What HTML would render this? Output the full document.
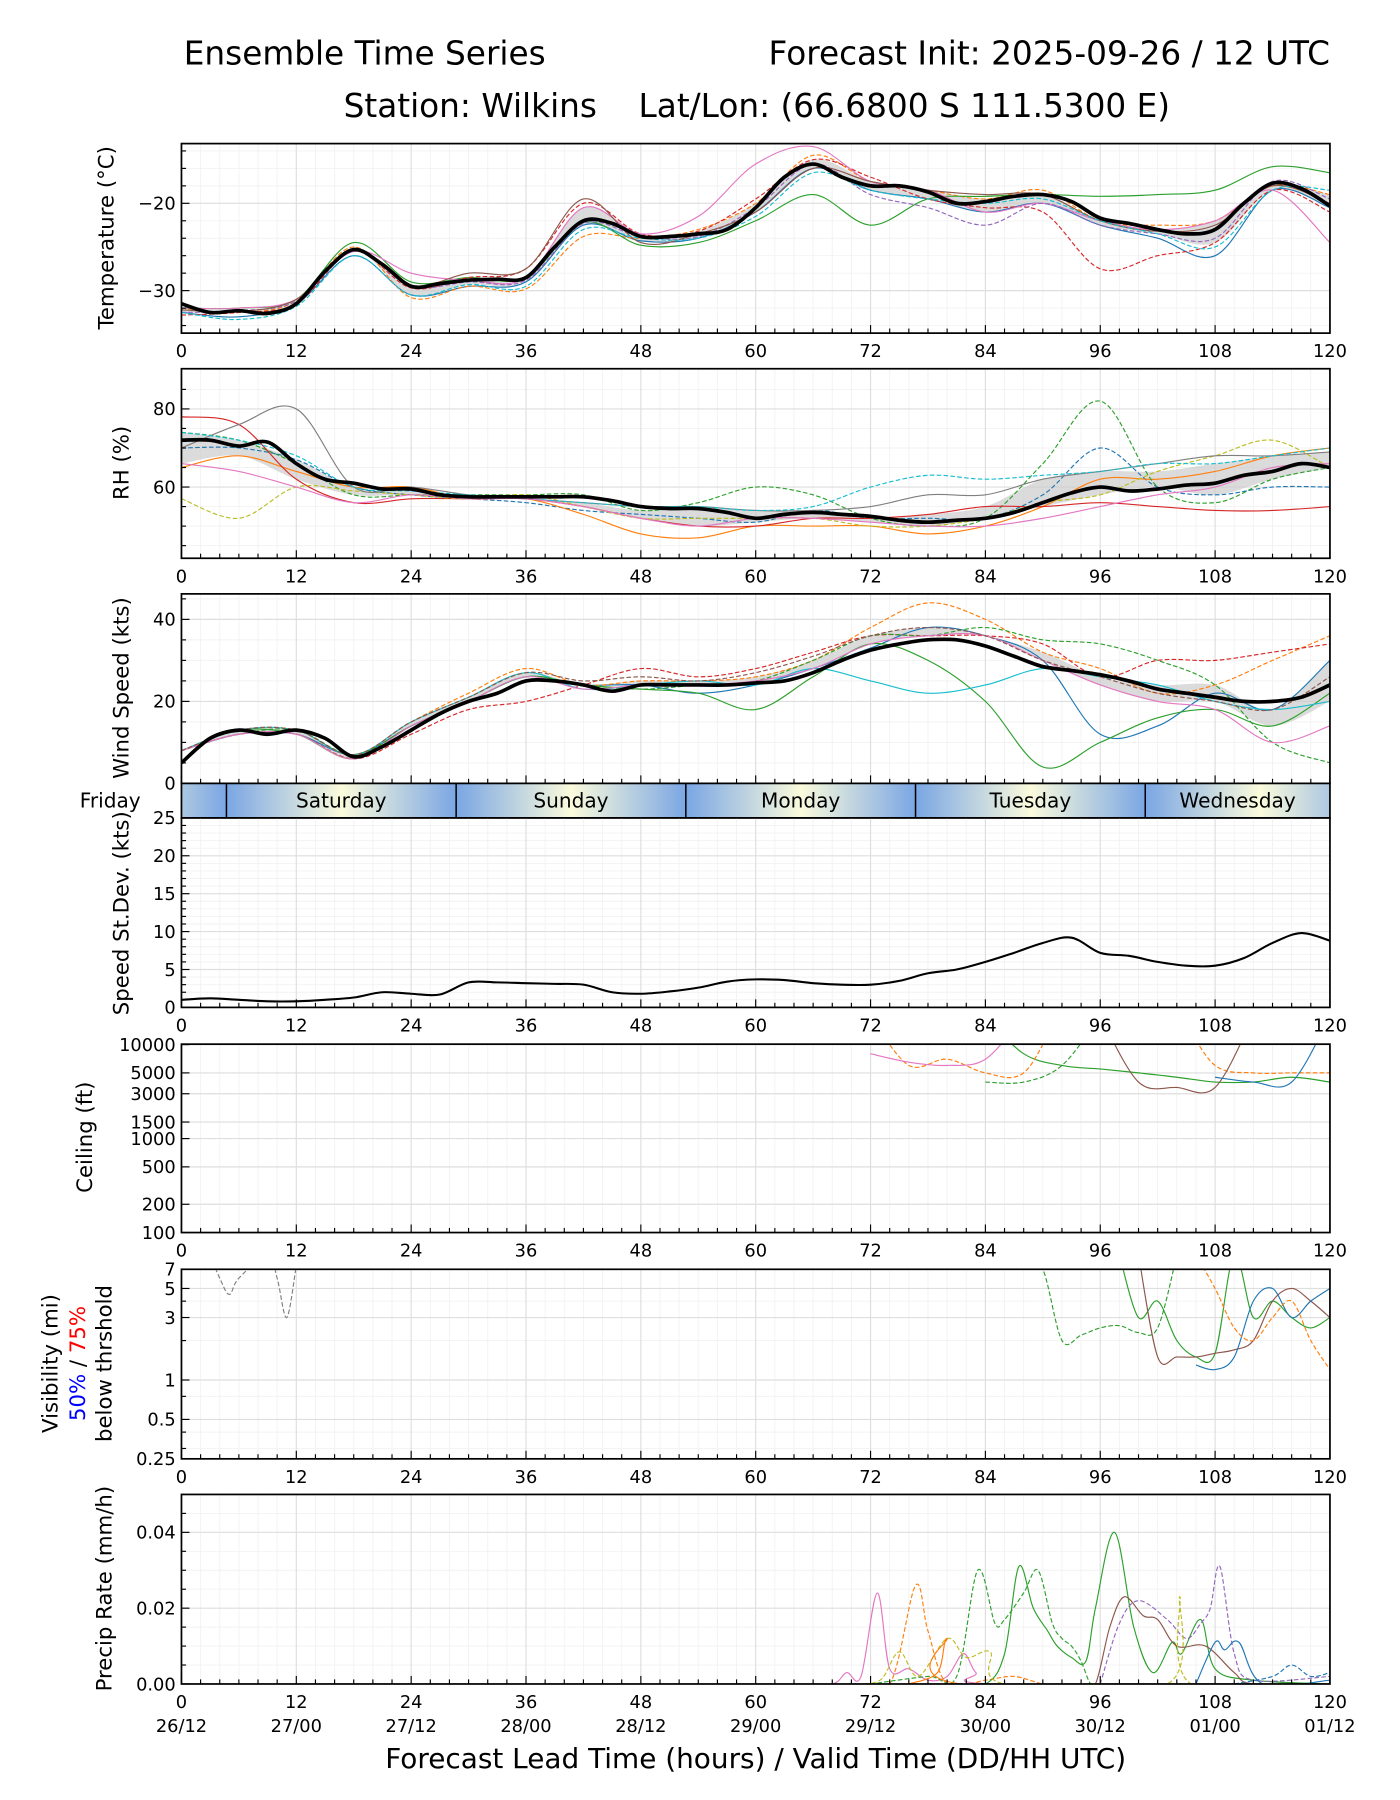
<!DOCTYPE html>
<html><head><meta charset="utf-8"><style>
html,body{margin:0;padding:0;background:#fff}
svg{display:block}
text{font-family:"DejaVu Sans","Liberation Sans",sans-serif;fill:#000}
</style></head><body>
<svg id="chart" xmlns="http://www.w3.org/2000/svg" width="1400" height="1800" viewBox="0 0 1219 1567" preserveAspectRatio="none">
<defs>
<linearGradient id="dayg" x1="0" x2="1" y1="0" y2="0">
<stop offset="0" stop-color="#7aa6e4"/><stop offset="0.5" stop-color="#fbfbdc"/><stop offset="1" stop-color="#7aa6e4"/>
</linearGradient>
</defs>
<text x="160" y="56" font-size="28.5">Ensemble Time Series</text>
<text x="1158" y="56" font-size="28.5" text-anchor="end">Forecast Init: 2025-09-26 / 12 UTC</text>
<text x="659" y="102" font-size="28.5" text-anchor="middle" xml:space="preserve">Station: Wilkins    Lat/Lon: (66.6800 S 111.5300 E)</text>
<g id="plots"></g>
<text x="658" y="1539" font-size="24.3" text-anchor="middle">Forecast Lead Time (hours) / Valid Time (DD/HH UTC)</text>
</svg>
<script>
// ---------- DATA ----------
const hours3 = [0,3,6,9,12,15,18,21,24,27,30,33,36,39,42,45,48,51,54,57,60,63,66,69,72,75,78,81,84,87,90,93,96,99,102,105,108,111,114,117,120];
const hours6 = [0,6,12,18,24,30,36,42,48,54,60,66,72,78,84,90,96,102,108,114,120];
const tempMean = [-31.5,-32.5,-32.3,-32.6,-31.5,-27.8,-25.3,-27,-29.5,-29.2,-28.8,-28.7,-28.5,-25,-22,-22.3,-23.8,-23.8,-23.5,-23,-20.5,-17,-15.5,-17,-18,-18,-18.7,-20,-19.8,-19.2,-19,-19.8,-21.7,-22.3,-23,-23.5,-23,-20,-17.7,-18.3,-20.3];
const tempA = [-32.5,-33,-31.5,-26,-30.5,-29.5,-29,-22.5,-24.3,-24,-21,-16,-18.5,-19.5,-21,-20,-22.5,-24,-26,-18.5,-20.5];
const tempB = [-32,-32.5,-31.2,-25,-30.8,-29.5,-29.8,-23.8,-24,-23,-20,-14.5,-17.5,-18.5,-19.5,-18.5,-22,-22.5,-22,-18,-19];
const tempC = [-32,-32,-31,-24.5,-29,-28.5,-28.5,-22.2,-24.8,-24.5,-22,-19,-22.5,-19.5,-19.2,-19,-19.2,-19,-18.5,-15.8,-16.5];
const tempD = [-32.8,-32.5,-31.5,-25.5,-29.7,-28.5,-27.5,-20,-23.5,-23.2,-19.5,-15,-17,-19.5,-20.5,-21,-27.5,-26,-24.5,-18.5,-21];
const tempE = [-32,-32,-31,-25.5,-28,-28.8,-28.5,-20.5,-23.5,-21.5,-15.5,-13.5,-17.5,-18.5,-21,-20,-22,-23,-22,-18.5,-24.5];
const tempF = [-32.5,-32.3,-31.2,-25.5,-29.5,-29,-28.8,-22.3,-23.8,-23.8,-20.5,-15.5,-19,-20.5,-22.5,-20,-22.5,-23.5,-24,-17.5,-19.5];
const tempG = [-32.2,-32.4,-31,-25.3,-29.4,-28,-27.5,-19.5,-24.5,-23.5,-21,-16,-17.5,-18.5,-19,-19,-22,-23.2,-22.5,-18,-20];
const tempH = [-32.5,-33.3,-31.8,-26,-30.5,-29.3,-29.5,-23,-24,-24,-21.5,-16.5,-18.5,-19.5,-20,-19.5,-22,-23.5,-25,-18.5,-18.5];
const rhMean = [72,72,70.5,71.5,66,62,61,59.5,59.5,58,57.5,57.5,57.5,57.5,57.5,56.5,55,54.5,54.5,53.5,52,53,53.5,53,52.5,51.5,51,51.5,52,53.5,56,58.5,60,59,59.5,60.5,61,63,64,66,65];
const rhA = [70,70,67,60,58,57,56,54,53,52,51,54,52,52,52,58,70,60,58,60,60];
const rhB = [65,68,64,60,60,57,57,53,48,47,50,50,50,48,50,55,62,62,64,68,70];
const rhC = [74,72,66,58,58,58,58,58,54,56,60,58,52,50,52,66,82,60,56,62,65];
const rhD = [78,76,62,56,57,57,57,55,52,50,50,52,52,53,55,55,56,55,54,54,55];
const rhE = [57,52,60,59,58,57,58,55,52,52,52,52,50,50,52,56,58,64,68,72,65];
const rhF = [70,76,80,60,60,58,57,56,55,55,54,54,55,58,58,62,64,66,68,68,69];
const rhG = [74,72,68,60,59,58,57,56,55,55,54,55,60,63,62,63,64,66,66,68,70];
const rhH = [66,64,60,56,58,57,57,55,52,50,52,52,51,50,50,52,55,58,60,65,66];
const windMean = [5,11,13,12,13,11,6.5,9,13,17,20,22,25,25,24,22.5,24,24,24,24,24.5,25,27,30,32.5,34,35,35,33.5,31,28.5,27.5,26.5,25,23,22,21,20,20,21,24];
const windA = [8,12,12,7,14,20,26,24,24,22,24,28,33,38,36,30,12,14,22,18,30];
const windB = [8,13,13,7,15,22,28,24,25,25,26,30,38,44,40,32,28,22,24,30,36];
const windC = [8,13,12,6,14,20,26,24,23,22,18,26,34,30,20,4,10,16,18,14,22];
const windD = [8,12,12,6,12,18,20,24,28,26,28,32,36,36,36,34,26,30,30,32,34];
const windE = [8,13,13,7,15,21,27,23,24,25,24,28,25,22,24,28,26,24,20,18,20];
const windF = [8,12,13,7,14,20,26,24,23,24,25,30,36,36,38,35,34,30,24,10,5];
const windG = [8,12,12,6,14,20,26,23,24,24,25,28,34,36,36,30,24,20,18,10,14];
const windH = [8,13,13,7,15,21,27,25,26,25,27,31,36,38,36,30,26,22,20,18,26];
const sdev = [1,1.2,1,0.8,0.8,1,1.3,2,1.8,1.7,3.3,3.3,3.2,3.1,3,2,1.8,2.1,2.6,3.4,3.7,3.6,3.2,3,3,3.5,4.5,5,6,7.2,8.5,9.2,7.2,6.8,6,5.5,5.5,6.5,8.5,9.8,8.8];
const ceilHours = [72,76,80,84,88,92,96,100,104,108,112,116,120];
const ceilGreen = [null,null,null,20000,8000,6000,5500,5000,4500,4000,4000,4500,4000];
const ceilGreenD = [null,null,null,4000,4000,6000,20000,null,null,null,null,null,null];
const ceilOrange = [20000,6000,7000,5000,5000,20000,20000,20000,20000,6000,5000,5000,5000];
const ceilBrown = [null,null,null,null,null,null,20000,4000,3500,3500,20000,null,null];
const ceilBlue = [null,null,null,null,null,null,null,null,null,4500,4000,4000,20000];
const ceilPink = [8000,6500,6000,7000,20000,null,null,null,null,null,null,null,null];
const visHours = [88,90,92,94,96,98,100,102,104,106,108,110,112,114,116,118,120];
const visGreenD = [9,7,2,2.2,2.5,2.6,2.3,2.5,9,null,null,null,null,null,null,null,null];
const visGreen = [null,null,null,null,null,9,3,4,2,1.5,1.6,9,3,4,3,2.5,3];
const visBrown = [null,null,null,null,null,null,9,1.5,1.5,1.5,1.6,1.7,2,4,5,4,3];
const visBlue = [null,null,null,null,null,null,null,null,null,1.3,1.2,1.5,4,5,3,4,5];
const visOrange = [null,null,null,null,null,null,null,null,null,9,5,2.5,2,3,4,2,1.2];
const visGreyH = [3,4,5,6,9,10,11,12];
const visGreyV = [9,6,4.5,6,9,6,3,7.5];
const precipPinkH = [64,68,69.5,71,72.7,74,76,78,80,81.7,83,85,120];
const precipPinkV = [0,0,0.003,0.002,0.024,0.004,0.004,0.001,0.002,0.008,0.003,0,0];
const precipOrangeDH = [70,74,76.7,78,80,84,87,90,92,120];
const precipOrangeDV = [0,0,0.026,0.014,0,0.001,0.002,0,0,0];
const precipGreenDH = [72,78,81,83.2,85,86,88,89.5,91,92,93,94,95,96,120];
const precipGreenDV = [0,0.002,0.002,0.03,0.016,0.017,0.024,0.03,0.016,0.012,0.01,0.006,0,0,0];
const precipGreenH = [80,84,86,87.5,89,90.5,91.5,93,94.5,95.5,97.5,99.5,101.5,103.5,104.5,106.5,108,112,120];
const precipGreenV = [0,0,0.008,0.031,0.02,0.014,0.01,0.007,0.006,0.02,0.04,0.015,0.003,0.011,0.008,0.017,0.004,0.001,0];
const precipBrownH = [94,95.5,97,98.5,100.5,102,104,107,110,112,120];
const precipBrownV = [0,0,0.015,0.023,0.018,0.017,0.01,0.01,0.003,0,0];
const precipPurpleH = [96,98,100,103,105,106.5,107.5,108.5,110,112,120];
const precipPurpleV = [0,0.016,0.022,0.017,0.012,0.016,0.02,0.031,0.008,0.001,0.002];
const precipOliveH = [70,73,75,77,80,82,84.5,86,103,104.3,105.5,120];
const precipOliveV = [0,0.001,0.0085,0.002,0.012,0.007,0.0085,0,0,0.023,0,0];
const precipOrangeH = [76,79,80,81.5,120];
const precipOrangeV = [0,0.003,0.012,0,0];
const precipBlueH = [106,108,109,110.5,113,120];
const precipBlueV = [0,0.011,0.009,0.011,0,0.001];
const precipBlueDH = [110,114,116,118,120];
const precipBlueDV = [0,0.002,0.005,0.002,0.003];
const dayNames = ["Friday","Saturday","Sunday","Monday","Tuesday","Wednesday"];
const dayStarts = [-19.3,4.7,28.7,52.7,76.7,100.7];
const xTicks = [0,12,24,36,48,60,72,84,96,108,120];
const dateLabels = ["26/12","27/00","27/12","28/00","28/12","29/00","29/12","30/00","30/12","01/00","01/12"];

// ---------- HELPERS ----------
const NS = "http://www.w3.org/2000/svg";
const root = document.getElementById('plots');
const X0 = 158, X1 = 1158;
const TF = 15.5;
function xs(h){ return X0 + h*(X1-X0)/120; }
function el(tag, attrs, parent){
  const e = document.createElementNS(NS, tag);
  for (const k in attrs) e.setAttribute(k, attrs[k]);
  (parent||root).appendChild(e); return e;
}
function smooth(pts){
  if (pts.length<2) return '';
  let d = 'M'+pts[0][0].toFixed(1)+','+pts[0][1].toFixed(1);
  for (let i=0;i<pts.length-1;i++){
    const p0=pts[i-1]||pts[i], p1=pts[i], p2=pts[i+1], p3=pts[i+2]||p2;
    const c1=[p1[0]+(p2[0]-p0[0])/6, p1[1]+(p2[1]-p0[1])/6];
    const c2=[p2[0]-(p3[0]-p1[0])/6, p2[1]-(p3[1]-p1[1])/6];
    d+=' C'+c1[0].toFixed(1)+','+c1[1].toFixed(1)+' '+c2[0].toFixed(1)+','+c2[1].toFixed(1)+' '+p2[0].toFixed(1)+','+p2[1].toFixed(1);
  }
  return d;
}
function segments(hs, vs, ys){
  const segs=[]; let cur=[];
  hs.forEach((h,i)=>{ const v=vs[i]; if(v===null){ if(cur.length) segs.push(cur); cur=[]; } else cur.push([xs(h), ys(v)]); });
  if(cur.length) segs.push(cur);
  return segs;
}
let clipId=0;
function panel(top, bottom, ys, yTicks, yLabels, minorY){
  const g = el('g', {});
  const cid='clip'+(clipId++);
  const cp = el('clipPath',{id:cid}, g); el('rect',{x:X0,y:top,width:X1-X0,height:bottom-top},cp);
  for(let h=0;h<=120;h+=2){ if(h%12) el('line',{x1:xs(h),x2:xs(h),y1:top,y2:bottom,stroke:'#f2f2f2','stroke-width':0.8},g); }
  (minorY||[]).forEach(v=>{ el('line',{x1:X0,x2:X1,y1:ys(v),y2:ys(v),stroke:'#f2f2f2','stroke-width':0.8},g); });
  xTicks.forEach(h=>{ el('line',{x1:xs(h),x2:xs(h),y1:top,y2:bottom,stroke:'#dedede','stroke-width':1},g); });
  yTicks.forEach(v=>{ el('line',{x1:X0,x2:X1,y1:ys(v),y2:ys(v),stroke:'#dedede','stroke-width':1},g); });
  const data = el('g',{'clip-path':'url(#'+cid+')'},g);
  for(let h=0;h<=120;h+=2){ const big=h%12===0; el('line',{x1:xs(h),x2:xs(h),y1:bottom,y2:bottom-(big?7:4),stroke:'#000','stroke-width':1},g); }
  yTicks.forEach((v,i)=>{
    el('line',{x1:X0,x2:X0+7,y1:ys(v),y2:ys(v),stroke:'#000','stroke-width':1},g);
    const t=el('text',{x:X0-5,y:ys(v)+5.5,'font-size':TF,'text-anchor':'end'},g);
    
    
    t.textContent=yLabels[i];
  });
  (minorY||[]).forEach(v=>{ el('line',{x1:X0,x2:X0+4,y1:ys(v),y2:ys(v),stroke:'#000','stroke-width':1},g); });
  const fr = el('rect',{x:X0,y:top,width:X1-X0,height:bottom-top,fill:'none',stroke:'#000','stroke-width':1.5},g);
  
  
  return {g, data};
}
function xTickLabels(y, withDates){
  xTicks.forEach((h,i)=>{
    const t=el('text',{x:xs(h),y:y,'font-size':TF,'text-anchor':'middle'});
    
    
    t.textContent=h;
    if(withDates){
      const d=el('text',{x:xs(h),y:y+21,'font-size':TF,'text-anchor':'middle'});
      
      
      d.textContent=dateLabels[i];
    }
  });
}
function yTitle(cx, cy, txt){
  const t=el('text',{x:0,y:0,'font-size':18.5,'text-anchor':'middle',transform:'translate('+cx+','+cy+') rotate(-90)'});
  
  
  t.textContent=txt; return t;
}
function line(parent, hs, vs, ys, color, dashed, w, name){
  segments(hs,vs,ys).forEach(s=>{
    const p=el('path',{d:smooth(s),fill:'none',stroke:color,'stroke-width':w||1,'stroke-dasharray':dashed?'4,2':'none'},parent);
    
    
  });
}
function band(parent, hs, members, ys){
  const lo=[],hi=[];
  hs.forEach((h,i)=>{ const vals=members.map(m=>m[i]).sort((a,b)=>a-b); const n=vals.length; lo.push(vals[Math.floor(n*0.3)]); hi.push(vals[Math.ceil(n*0.7)-1]); });
  const up=hs.map((h,i)=>[xs(h),ys(hi[i])]);
  const dn=hs.map((h,i)=>[xs(h),ys(lo[i])]).reverse();
  const d=smooth(up)+' L'+dn[0][0]+','+dn[0][1]+smooth(dn).replace(/^M[^C]*/,' ')+' Z';
  const p=el('path',{d:d,fill:'#cccccc','fill-opacity':0.7,stroke:'none'},parent);
  
  
}
const colors=['#1f77b4','#ff7f0e','#2ca02c','#d62728','#e377c2','#9467bd','#8c564b','#17becf'];

// ---------- TEMPERATURE ----------
{
  const ys=v=>177+(-20-v)*7.6;
  const P=panel(125,290,ys,[-20,-30],['\u221220','\u221230'],[-14,-16,-18,-22,-24,-26,-28,-32,-34]);
  const mem=[tempA,tempB,tempC,tempD,tempE,tempF,tempG,tempH];
  band(P.data,hours6,mem,ys);
  mem.forEach((m,i)=>line(P.data,hours6,m,ys,colors[i],i%2===1,1,'temp-member'));
  line(P.data,hours3,tempMean,ys,'#000',false,3.2,'temp-mean');
  xTickLabels(311,false); yTitle(99,207,'Temperature (\u00b0C)');
}
// ---------- RH ----------
{
  const ys=v=>356+(80-v)*3.4;
  const P=panel(321,486,ys,[80,60],['80','60'],[85,75,70,65,55,50,45]);
  const mem=[rhA,rhB,rhC,rhD,rhE,rhF,rhG,rhH];
  const rc=['#1f77b4','#ff7f0e','#2ca02c','#d62728','#bcbd22','#7f7f7f','#17becf','#e377c2'];
  band(P.data,hours6,mem,ys);
  mem.forEach((m,i)=>line(P.data,hours6,m,ys,rc[i],i%2===0,1,'rh-member'));
  line(P.data,hours3,rhMean,ys,'#000',false,3.2,'rh-mean');
  xTickLabels(507,false); yTitle(112,403,'RH (%)');
}
// ---------- WIND ----------
{
  const ys=v=>682-v*3.57;
  const P=panel(517,682,ys,[0,20,40],['0','20','40'],[5,10,15,25,30,35,45]);
  const mem=[windA,windB,windC,windD,windE,windF,windG,windH];
  const wc=['#1f77b4','#ff7f0e','#2ca02c','#d62728','#17becf','#2ca02c','#e377c2','#8c564b'];
  band(P.data,hours6,mem,ys);
  mem.forEach((m,i)=>line(P.data,hours6,m,ys,wc[i],i%2===1,1,'wind-member'));
  line(P.data,hours3,windMean,ys,'#000',false,3.2,'wind-mean');
  yTitle(112,599,'Wind Speed (kts)');
}
// ---------- DAY BAND ----------
{
  const top=682,bot=712;
  const cp=el('clipPath',{id:'dayclip'}); el('rect',{x:X0,y:top,width:X1-X0,height:bot-top},cp);
  dayNames.forEach((n,i)=>{
    const s=dayStarts[i], e=s+24;
    const x0=Math.max(X0,xs(s)), x1=Math.min(X1,xs(e));
    const r=el('rect',{x:xs(s),y:top,width:xs(e)-xs(s)+0.5,height:bot-top,fill:'url(#dayg)','clip-path':'url(#dayclip)'});
    
    
    const cx = i===0 ? 96 : (x0+x1)/2;
    const t=el('text',{x:cx,y:703,'font-size':17.5,'text-anchor':'middle'});
    
    
    t.textContent=n;
  });
  dayStarts.slice(1).forEach(s=>{ el('line',{x1:xs(s),x2:xs(s),y1:top,y2:bot,stroke:'#000','stroke-width':1.3}); });
  el('rect',{x:X0,y:top,width:X1-X0,height:bot-top,fill:'none',stroke:'#000','stroke-width':1.5});
}
// ---------- STDEV ----------
{
  const ys=v=>877-v*6.6;
  const minor=[]; for(let v=1;v<25;v++) if(v%5) minor.push(v);
  const P=panel(712,877,ys,[0,5,10,15,20,25],['0','5','10','15','20','25'],minor);
  line(P.data,hours3,sdev,ys,'#000',false,1.8,'speed-stdev-line');
  xTickLabels(898,false); yTitle(112,795,'Speed St.Dev. (kts)');
}
// ---------- CEILING ----------
{
  const ys=v=>1073-(Math.log10(v)-2)*81.8;
  const P=panel(909,1073,ys,[10000,5000,3000,1500,1000,500,200,100],['10000','5000','3000','1500','1000','500','200','100'],[]);
  line(P.data,ceilHours,ceilGreen,ys,'#2ca02c',false,1,'ceiling-member');
  line(P.data,ceilHours,ceilGreenD,ys,'#2ca02c',true,1,'ceiling-member');
  line(P.data,ceilHours,ceilOrange,ys,'#ff7f0e',true,1,'ceiling-member');
  line(P.data,ceilHours,ceilBrown,ys,'#8c564b',false,1,'ceiling-member');
  line(P.data,ceilHours,ceilBlue,ys,'#1f77b4',false,1,'ceiling-member');
  line(P.data,ceilHours,ceilPink,ys,'#e377c2',false,1,'ceiling-member');
  xTickLabels(1094,false); yTitle(80,990,'Ceiling (ft)');
}
// ---------- VISIBILITY ----------
{
  const ys=v=>1270-(Math.log10(v)-Math.log10(0.25))*114;
  const P=panel(1105,1270,ys,[7,5,3,1,0.5,0.25],['7','5','3','1','0.5','0.25'],[4,2,0.75,0.4,0.3]);
  line(P.data,visHours,visGreenD,ys,'#2ca02c',true,1,'visibility-member');
  line(P.data,visHours,visGreen,ys,'#2ca02c',false,1,'visibility-member');
  line(P.data,visHours,visBrown,ys,'#8c564b',false,1,'visibility-member');
  line(P.data,visHours,visBlue,ys,'#1f77b4',false,1,'visibility-member');
  line(P.data,visHours,visOrange,ys,'#ff7f0e',true,1,'visibility-member');
  line(P.data,visGreyH,visGreyV,ys,'#7f7f7f',true,1,'visibility-member');
  xTickLabels(1291,false);
  const t=el('text',{x:0,y:0,'font-size':18.5,'text-anchor':'middle',transform:'translate(50,1187) rotate(-90)'});
  
  
  t.textContent='Visibility (mi)';
  const t2=el('text',{x:0,y:0,'font-size':18.5,'text-anchor':'middle',transform:'translate(74,1187) rotate(-90)'});
  
  
  const s1=el('tspan',{fill:'#0000ff'},t2); s1.textContent='50%';
  const s2=el('tspan',{},t2); s2.textContent=' / ';
  const s3=el('tspan',{fill:'#ff0000'},t2); s3.textContent='75%';
  const t3=el('text',{x:0,y:0,'font-size':18.5,'text-anchor':'middle',transform:'translate(97,1187) rotate(-90)'});
  
  
  t3.textContent='below thrshold';
}
// ---------- PRECIP ----------
{
  const ys=v=>1466-v*3300;
  const P=panel(1301,1466,ys,[0,0.02,0.04],['0.00','0.02','0.04'],[0.005,0.01,0.015,0.025,0.03,0.035,0.045]);
  line(P.data,precipPinkH,precipPinkV,ys,'#e377c2',false,1,'precip-member');
  line(P.data,precipOrangeDH,precipOrangeDV,ys,'#ff7f0e',true,1,'precip-member');
  line(P.data,precipGreenDH,precipGreenDV,ys,'#2ca02c',true,1,'precip-member');
  line(P.data,precipGreenH,precipGreenV,ys,'#2ca02c',false,1,'precip-member');
  line(P.data,precipBrownH,precipBrownV,ys,'#8c564b',false,1,'precip-member');
  line(P.data,precipPurpleH,precipPurpleV,ys,'#9467bd',true,1,'precip-member');
  line(P.data,precipOliveH,precipOliveV,ys,'#bcbd22',true,1,'precip-member');
  line(P.data,precipOrangeH,precipOrangeV,ys,'#ff7f0e',false,1,'precip-member');
  line(P.data,precipBlueH,precipBlueV,ys,'#1f77b4',false,1,'precip-member');
  line(P.data,precipBlueDH,precipBlueDV,ys,'#1f77b4',true,1,'precip-member');
  xTickLabels(1487,true); yTitle(97,1383,'Precip Rate (mm/h)');
}
</script>
</body></html>
